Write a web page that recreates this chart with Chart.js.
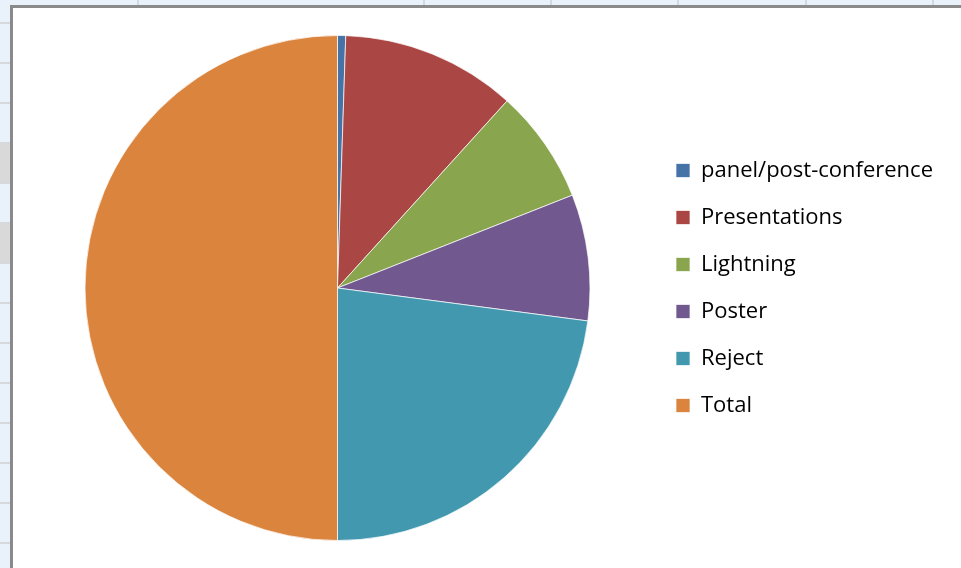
<!DOCTYPE html>
<html>
<head>
<meta charset="utf-8">
<script src="https://cdn.jsdelivr.net/npm/chart.js@4.4.1/dist/chart.umd.min.js"></script>
<style>
  html, body { margin: 0; padding: 0; }
  body {
    width: 961px; height: 568px; overflow: hidden; position: relative;
    background: #e9f2fb;
  }
  /* spreadsheet cells behind the chart */
  .col { position: absolute; top: 0; width: 2px; height: 6px; background: #d6d9dc; }
  .row { position: absolute; left: 0; width: 10px; height: 2px; background: #d6d9dc; }
  .sel { position: absolute; left: 0; width: 10px; height: 40px; background: #d9d9d9; }
  #box {
    position: absolute; left: 10px; top: 5px;
    width: 1000px; height: 600px;
    border-left: 3px solid #8a8a8a; border-top: 3px solid #8a8a8a;
    background: #fff;
  }
  #wrap { position: absolute; left: 0; top: 0; width: 948px; height: 560px; }
</style>
</head>
<body>
<div id="grid"></div>
<div id="box">
  <div id="wrap"><canvas id="pieChart"></canvas></div>
</div>
<script>
// background sheet grid
let grid = document.getElementById('grid');
[137, 423, 550, 677, 805, 932].forEach(x => {
    grid.insertAdjacentHTML('beforeend', '<div class="col" style="left:' + x + 'px"></div>');
});
[143, 223].forEach(y => {
    grid.insertAdjacentHTML('beforeend', '<div class="sel" style="top:' + y + 'px"></div>');
});
for (let y = 22; y < 568; y += 40) {
    grid.insertAdjacentHTML('beforeend', '<div class="row" style="top:' + y + 'px"></div>');
}

// data
const categories = ['panel/post-conference', 'Presentations', 'Lightning', 'Poster', 'Reject', 'Total'];
const counts = [2, 43, 28, 31, 88, 192];
const colors = ['#4572A7', '#AA4643', '#89A54E', '#71588F', '#4198AF', '#DB843D'];

const ctx = document.getElementById('pieChart').getContext('2d');

let pieChart = new Chart(ctx, {
    type: 'pie',
    data: {
        labels: categories,
        datasets: [{
            data: counts,
            backgroundColor: colors,
            borderColor: 'rgba(255,255,255,0.7)',
            borderWidth: 1
        }]
    },
    options: {
        responsive: true,
        maintainAspectRatio: false,
        animation: false,
        layout: {
            padding: { top: 27, bottom: 27, left: 11, right: 18 }
        },
        plugins: {
            tooltip: { enabled: false },
            legend: {
                position: 'right',
                labels: {
                    boxWidth: 14,
                    boxHeight: 14,
                    padding: 25,
                    color: '#000',
                    font: { family: 'Open Sans', size: 22 }
                }
            }
        }
    }
});
</script>
</body>
</html>
